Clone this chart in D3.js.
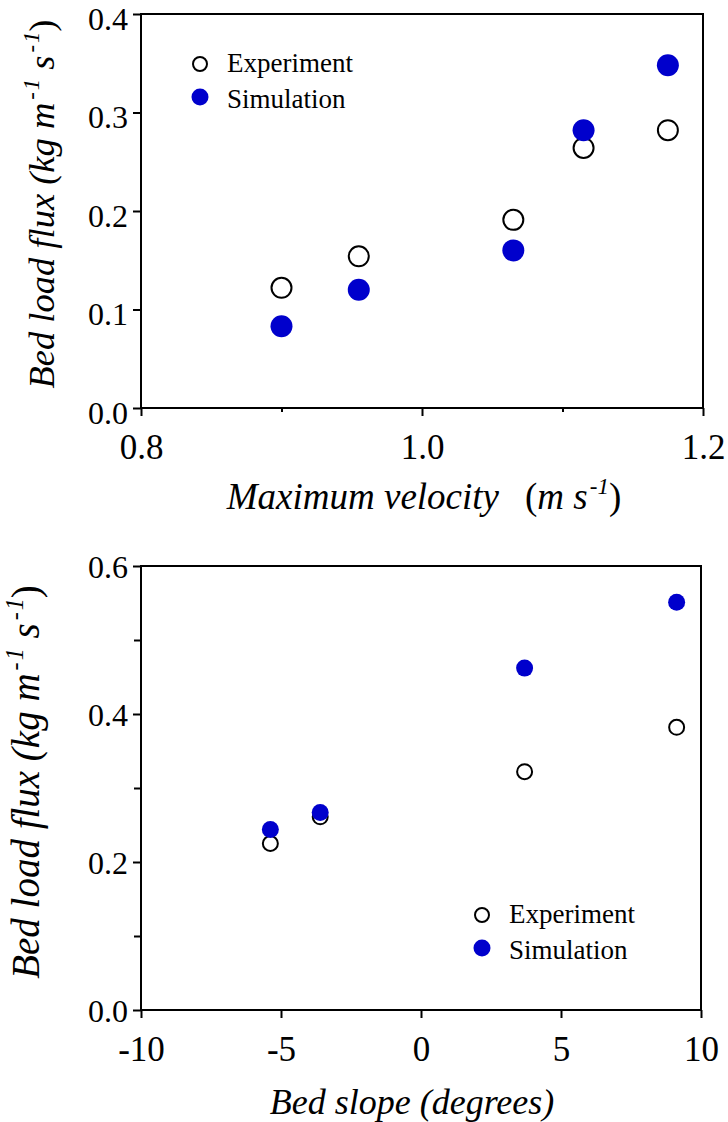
<!DOCTYPE html>
<html>
<head>
<meta charset="utf-8">
<script src="https://cdn.jsdelivr.net/npm/d3@7"></script>
<style>
  html, body { margin: 0; padding: 0; background: #fff; }
  svg { display: block; }
  text { font-family: "Liberation Serif", "Times New Roman", Times, serif; fill: #000; }
</style>
</head>
<body>
<svg id="chart" width="728" height="1122"></svg>
<script>
// ---- Data ----
const topVelocity   = [0.900, 0.955, 1.065, 1.115, 1.175];
const topExperiment = [0.122, 0.154, 0.191, 0.264, 0.282];
const topSimulation = [0.083, 0.120, 0.160, 0.282, 0.348];

const bottomSlope      = [-5.38, -3.60, 3.70, 9.13];
const bottomExperiment = [0.225, 0.261, 0.322, 0.382];
const bottomSimulation = [0.244, 0.267, 0.462, 0.551];

const topXTicks = [0.8, 1.0, 1.2];
const topXMinor = [0.9, 1.1];
const topYTicks = [0.0, 0.1, 0.2, 0.3, 0.4];

const bottomXTicks = [-10, -5, 0, 5, 10];
const bottomYTicks = [0.0, 0.2, 0.4, 0.6];
const bottomYMinor = [0.1, 0.3, 0.5];

const legendLabels = ["Experiment", "Simulation"];
const simColor = "#0000cc";
const serif = '"Liberation Serif", "Times New Roman", Times, serif';

const svg = d3.select("#chart");

function panel(opt) {
  const x = d3.scaleLinear().domain(opt.xDomain).range([opt.left, opt.right]);
  const y = d3.scaleLinear().domain(opt.yDomain).range([opt.bottom, opt.top]);
  const g = svg.append("g");

  // frame
  g.append("rect")
    .attr("x", opt.left).attr("y", opt.top)
    .attr("width", opt.right - opt.left).attr("height", opt.bottom - opt.top)
    .attr("fill", "none").attr("stroke", "#000").attr("stroke-width", 2);

  // x axis
  g.append("g").attr("class", "xaxis").attr("transform", `translate(0,${opt.bottom})`)
    .call(d3.axisBottom(x).tickValues(opt.xTicks).tickSize(8).tickPadding(18)
      .tickFormat(opt.xFmt));
  if (opt.xMinor) {
    g.append("g").attr("transform", `translate(0,${opt.bottom})`)
      .call(d3.axisBottom(x).tickValues(opt.xMinor).tickSize(4).tickFormat(""));
  }
  // y axis
  const ya = g.append("g").attr("class", "yaxis").attr("transform", `translate(${opt.left},0)`)
    .call(d3.axisLeft(y).tickValues(opt.yTicks).tickSize(8).tickPadding(5)
      .tickFormat(d3.format(".1f")));
  if (opt.yMinor) {
    g.append("g").attr("transform", `translate(${opt.left},0)`)
      .call(d3.axisLeft(y).tickValues(opt.yMinor).tickSize(7).tickFormat(""));
  }
  g.selectAll(".domain").remove();
  g.selectAll("g").attr("font-family", serif);
  g.selectAll(".tick line").attr("stroke", "#000").attr("stroke-width", 2);
  g.selectAll(".xaxis .tick text")
    .style("font-family", serif)
    .style("font-size", "35px").attr("fill", "#000");
  ya.selectAll(".tick text")
    .style("font-family", serif)
    .style("font-size", "32px").attr("fill", "#000")
    .attr("dy", opt.yDy);

  // points: experiment (open) then simulation (filled)
  g.append("g").selectAll("circle").data(opt.xs)
    .join("circle")
    .attr("cx", (d) => x(d))
    .attr("cy", (d, i) => y(opt.exp[i]))
    .attr("r", opt.rExp)
    .attr("fill", "#fff").attr("stroke", "#000").attr("stroke-width", 2);
  g.append("g").selectAll("circle").data(opt.xs)
    .join("circle")
    .attr("cx", (d) => x(d))
    .attr("cy", (d, i) => y(opt.sim[i]))
    .attr("r", opt.rSim)
    .attr("fill", simColor);

  // legend
  const lg = g.append("g").attr("transform", `translate(${opt.legX},${opt.legY})`);
  lg.append("circle").attr("cx", 0).attr("cy", 0).attr("r", 7)
    .attr("fill", "#fff").attr("stroke", "#000").attr("stroke-width", 2);
  lg.append("circle").attr("cx", 0).attr("cy", 33).attr("r", 8.5).attr("fill", simColor);
  lg.selectAll("text").data(legendLabels).join("text")
    .attr("x", 27).attr("y", (d, i) => 8 + i * 36)
    .style("font-size", "27px")
    .text((d) => d);

  return { x, y, g };
}

panel({
  xDomain: [0.8, 1.2], yDomain: [0, 0.4],
  left: 141, right: 703, top: 14, bottom: 408,
  xTicks: topXTicks, xMinor: topXMinor, yTicks: topYTicks, yMinor: null,
  xFmt: d3.format(".1f"), yDy: 15,
  xs: topVelocity, exp: topExperiment, sim: topSimulation,
  rExp: 10, rSim: 11,
  legX: 200, legY: 64
});

panel({
  xDomain: [-10, 10], yDomain: [0, 0.6],
  left: 141, right: 701, top: 566, bottom: 1010,
  xTicks: bottomXTicks, xMinor: null, yTicks: bottomYTicks, yMinor: bottomYMinor,
  xFmt: (d) => String(d).replace("\u2212", "-"), yDy: 11,
  xs: bottomSlope, exp: bottomExperiment, sim: bottomSimulation,
  rExp: 7.5, rSim: 8.5,
  legX: 482, legY: 915
});

// ---- Axis titles ----
function yTitle(cx, cy, size) {
  const sup = size * 0.62;
  const up = size * 0.4;
  const t = svg.append("text")
    .attr("transform", `translate(${cx},${cy}) rotate(-90)`)
    .attr("text-anchor", "middle")
    .style("font-size", size + "px").style("font-style", "italic");
  t.append("tspan").text("Bed load flux (kg m");
  t.append("tspan").attr("dx", 3).attr("dy", -up).style("font-size", sup + "px").style("font-style", "normal").text("-");
  t.append("tspan").attr("dx", 2).style("font-size", sup + "px").text("1");
  t.append("tspan").attr("dy", up).text(" s");
  t.append("tspan").attr("dx", 3).attr("dy", -up).style("font-size", sup + "px").style("font-style", "normal").text("-");
  t.append("tspan").attr("dx", 2).style("font-size", sup + "px").text("1");
  t.append("tspan").attr("dy", up).style("font-style", "normal").text(")");
}
yTitle(54, 204, 36.5);
yTitle(39, 782, 39);

// top x title
{
  const t = svg.append("text")
    .attr("x", 424).attr("y", 509)
    .attr("text-anchor", "middle")
    .style("font-size", "37px");
  t.append("tspan").style("font-style", "italic").text("Maximum velocity");
  t.append("tspan").attr("dx", 26).text("(");
  t.append("tspan").style("font-style", "italic").text("m s");
  t.append("tspan").attr("dx", 2).attr("dy", -15).style("font-size", "23px").text("-");
  t.append("tspan").style("font-size", "23px").style("font-style", "italic").text("1");
  t.append("tspan").attr("dy", 15).text(")");
}
// bottom x title
svg.append("text")
  .attr("x", 412).attr("y", 1114)
  .attr("text-anchor", "middle")
  .style("font-size", "36px").style("font-style", "italic")
  .text("Bed slope (degrees)");
</script>
</body>
</html>
